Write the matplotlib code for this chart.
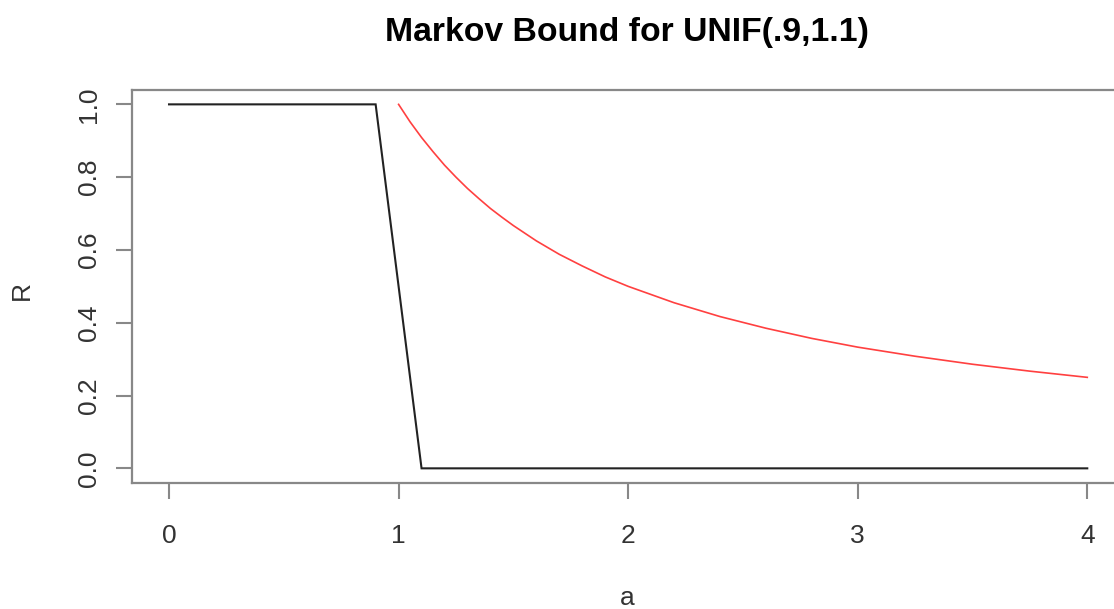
import matplotlib
matplotlib.use("Agg")
import matplotlib.pyplot as plt

# Data
surv_a = [0.0, 0.9, 1.1, 4.0]
surv_R = [1.0, 1.0, 0.0, 0.0]

bound_a = [1.0, 1.05, 1.1, 1.15, 1.2, 1.25, 1.3, 1.35, 1.4, 1.45, 1.5, 1.6, 1.7, 1.8, 1.9,
           2.0, 2.2, 2.4, 2.6, 2.8, 3.0, 3.25, 3.5, 3.75, 4.0]
bound_R = [1.0, 0.952, 0.909, 0.870, 0.833, 0.800, 0.769, 0.741, 0.714, 0.690, 0.667, 0.625,
           0.588, 0.556, 0.526, 0.5, 0.455, 0.417, 0.385, 0.357, 0.333, 0.308, 0.286, 0.267, 0.25]

x_ticks = [0, 1, 2, 3, 4]
y_ticks = [0.0, 0.2, 0.4, 0.6, 0.8, 1.0]
title = "Markov Bound for UNIF(.9,1.1)"

plt.rcParams['font.family'] = ['Liberation Sans', 'DejaVu Sans']

W, H = 1114, 609
fig = plt.figure(figsize=(W / 100, H / 100), dpi=100)
left, right, top, bottom = 132.3, 1124, 89.8, 482.9
ax = fig.add_axes([left / W, 1 - bottom / H, (right - left) / W, (bottom - top) / H])

ax.plot(surv_a, surv_R, color='#222222', lw=1.5, solid_joinstyle='miter')
ax.plot(bound_a, bound_R, color='#ff4040', lw=1.2)

ax.set_xlim(-0.16, 4.16)
ax.set_ylim(-0.04, 1.04)
ax.set_xticks(x_ticks)
ax.set_xticklabels([str(v) for v in x_ticks])
ax.set_yticks(y_ticks)
ax.set_yticklabels([f"{v:.1f}" for v in y_ticks], rotation=90, va='center')

for s in ax.spines.values():
    s.set_color('#888888')
    s.set_linewidth(1.6)
ax.tick_params(axis='both', direction='out', length=11.5, width=1.5, color='#888888',
               labelsize=19, labelcolor='#333333')
ax.tick_params(axis='x', pad=18)
ax.tick_params(axis='y', pad=11)

fig.text(627 / W, 1 - 32 / H, title, fontsize=24.3, fontweight='bold', ha='center', va='center')
fig.text(627 / W, 1 - 598 / H, "a", fontsize=19, color='#333333', ha='center', va='center')
fig.text(22 / W, 1 - 290 / H, "R", fontsize=19, color='#333333', ha='center', va='center', rotation=90)

fig.savefig("out.png", dpi=100)
